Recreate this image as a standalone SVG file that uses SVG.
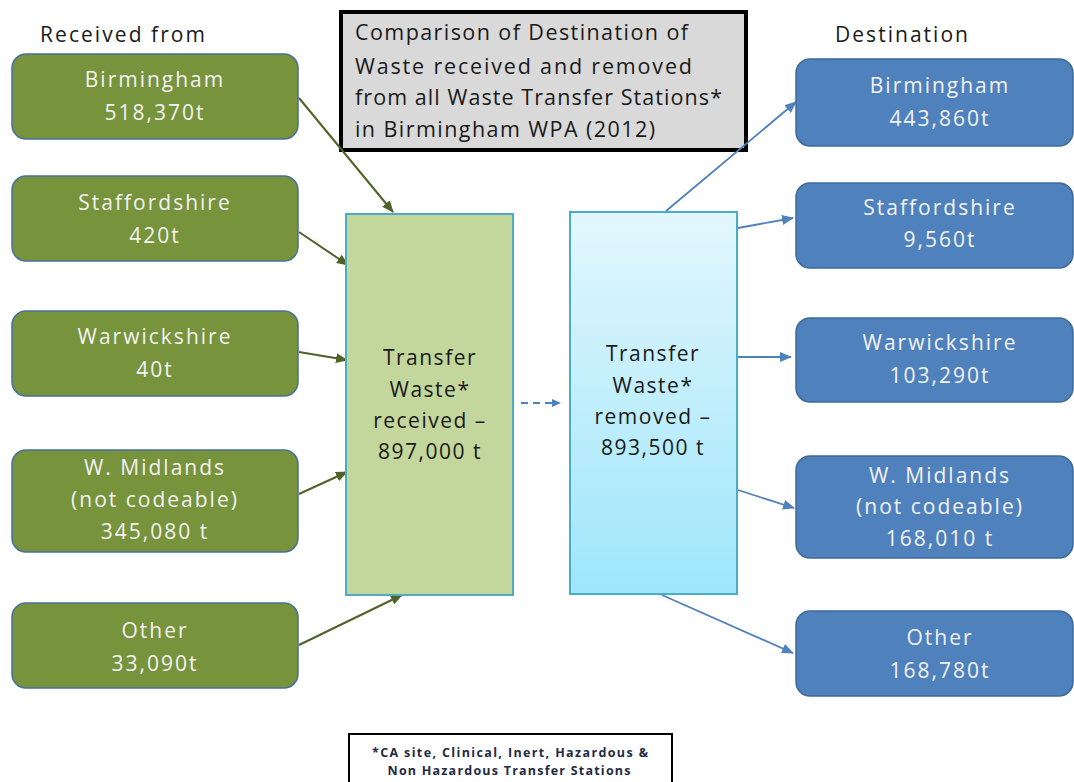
<svg xmlns="http://www.w3.org/2000/svg" width="1074" height="782" viewBox="0 0 1074 782">
<style>
.lbox{fill:#77933c;stroke:#4a6f9a;stroke-width:1.5}
.rbox{fill:#4f81bd;stroke:#3f6a9a;stroke-width:1.5}
.bt{font-family:"Open Sans",sans-serif;font-size:21px;letter-spacing:2px;fill:#f2f2f2;text-anchor:middle}
.ct{font-family:"Open Sans",sans-serif;font-size:21px;letter-spacing:1.5px;fill:#1a1a1a;text-anchor:middle}
.hd{font-family:"Open Sans",sans-serif;font-size:21px;fill:#1a1a1a}
.tt{font-family:"Open Sans",sans-serif;font-size:21.5px;fill:#1a1a1a}
.ft{font-family:"Open Sans",sans-serif;font-size:12.5px;font-weight:bold;fill:#1f2a44;text-anchor:middle}
.gc{stroke:#4f6228;stroke-width:2;fill:none;marker-end:url(#ga)}
.bc{stroke:#4f81bd;stroke-width:1.8;fill:none;marker-end:url(#ba)}
</style>
<defs>
<marker id="ga" markerUnits="userSpaceOnUse" markerWidth="12" markerHeight="10" refX="11" refY="5" orient="auto"><path d="M0,0 L12,5 L0,10 Z" fill="#4f6228"/></marker>
<marker id="ba" markerUnits="userSpaceOnUse" markerWidth="12" markerHeight="10" refX="11" refY="5" orient="auto"><path d="M0,0 L12,5 L0,10 Z" fill="#4f81bd"/></marker>
<linearGradient id="bg" x1="0" y1="0" x2="0" y2="1"><stop offset="0" stop-color="#e3f7fd"/><stop offset="1" stop-color="#9ee6fb"/></linearGradient>
</defs>
<rect width="1074" height="782" fill="#ffffff"/>
<text class="hd" x="40" y="42" textLength="165" lengthAdjust="spacing">Received from</text>
<text class="hd" x="835" y="42" textLength="133" lengthAdjust="spacing">Destination</text>
<g id="title">
<rect x="341" y="12" width="405" height="138" fill="#d9d9d9" stroke="#000" stroke-width="4"/>
<text class="tt" x="355" y="40" textLength="333" lengthAdjust="spacing">Comparison of Destination of</text>
<text class="tt" x="355" y="74" textLength="337" lengthAdjust="spacing">Waste  received and removed</text>
<text class="tt" x="355" y="105" textLength="367" lengthAdjust="spacing">from all Waste Transfer Stations*</text>
<text class="tt" x="355" y="137" textLength="300" lengthAdjust="spacing">in Birmingham WPA (2012)</text>
</g>
<g id="connectors">
<line class="gc" x1="299" y1="98" x2="393" y2="212"/>
<line class="gc" x1="299" y1="232" x2="348" y2="265"/>
<line class="gc" x1="299" y1="352" x2="347" y2="360"/>
<line class="gc" x1="299" y1="494" x2="347" y2="472"/>
<line class="gc" x1="299" y1="645" x2="402" y2="595"/>
<line class="bc" x1="666" y1="211" x2="796" y2="102"/>
<line class="bc" x1="738" y1="228" x2="793" y2="218"/>
<line class="bc" x1="738" y1="357" x2="791" y2="357"/>
<line class="bc" x1="738" y1="490" x2="794" y2="508"/>
<line class="bc" x1="662" y1="595" x2="793" y2="653"/>
<line x1="521" y1="403" x2="552" y2="403" stroke="#4f81bd" stroke-width="1.8" stroke-dasharray="7,5"/>
<path d="M552,399 L561,403 L552,407 Z" fill="#4f81bd"/>
</g>
<g id="left-birmingham"><rect class="lbox" x="12" y="54" width="286" height="85" rx="14"/><text class="bt" x="155" y="87">Birmingham</text><text class="bt" x="155" y="120">518,370t</text></g>
<g id="left-staffordshire"><rect class="lbox" x="12" y="176" width="286" height="85" rx="14"/><text class="bt" x="155" y="210">Staffordshire</text><text class="bt" x="155" y="243">420t</text></g>
<g id="left-warwickshire"><rect class="lbox" x="12" y="311" width="286" height="85" rx="14"/><text class="bt" x="155" y="344">Warwickshire</text><text class="bt" x="155" y="377">40t</text></g>
<g id="left-wmidlands"><rect class="lbox" x="12" y="450" width="286" height="102" rx="14"/><text class="bt" x="155" y="475">W. Midlands</text><text class="bt" x="155" y="507">(not codeable)</text><text class="bt" x="155" y="539">345,080 t</text></g>
<g id="left-other"><rect class="lbox" x="12" y="603" width="286" height="85" rx="14"/><text class="bt" x="155" y="638">Other</text><text class="bt" x="155" y="671">33,090t</text></g>
<g id="received"><rect x="346" y="214" width="167" height="381" fill="#c3d69b" stroke="#4bacc6" stroke-width="2"/><text class="ct" x="430" y="365">Transfer</text><text class="ct" x="430" y="397">Waste*</text><text class="ct" x="430" y="428">received –</text><text class="ct" x="430" y="459">897,000 t</text></g>
<g id="removed"><rect x="570" y="212" width="167" height="382" fill="url(#bg)" stroke="#4bacc6" stroke-width="2"/><text class="ct" x="653" y="361">Transfer</text><text class="ct" x="653" y="393">Waste*</text><text class="ct" x="653" y="424">removed –</text><text class="ct" x="653" y="455">893,500 t</text></g>
<g id="right-birmingham"><rect class="rbox" x="796" y="59" width="277" height="87" rx="14"/><text class="bt" x="940" y="93">Birmingham</text><text class="bt" x="940" y="126">443,860t</text></g>
<g id="right-staffordshire"><rect class="rbox" x="796" y="183" width="277" height="85" rx="14"/><text class="bt" x="940" y="215">Staffordshire</text><text class="bt" x="940" y="247">9,560t</text></g>
<g id="right-warwickshire"><rect class="rbox" x="796" y="318" width="277" height="84" rx="14"/><text class="bt" x="940" y="350">Warwickshire</text><text class="bt" x="940" y="383">103,290t</text></g>
<g id="right-wmidlands"><rect class="rbox" x="796" y="456" width="277" height="102" rx="14"/><text class="bt" x="940" y="483">W. Midlands</text><text class="bt" x="940" y="514">(not codeable)</text><text class="bt" x="940" y="546">168,010 t</text></g>
<g id="right-other"><rect class="rbox" x="796" y="611" width="277" height="85" rx="14"/><text class="bt" x="940" y="645">Other</text><text class="bt" x="940" y="678">168,780t</text></g>
<g id="footnote">
<rect x="349" y="734" width="323" height="60" fill="#ffffff" stroke="#000" stroke-width="2"/>
<text class="ft" x="510" y="757" textLength="276" lengthAdjust="spacing">*CA site, Clinical, Inert, Hazardous  &amp;</text>
<text class="ft" x="509" y="775" textLength="243" lengthAdjust="spacing">Non Hazardous Transfer Stations</text>
</g>
</svg>
